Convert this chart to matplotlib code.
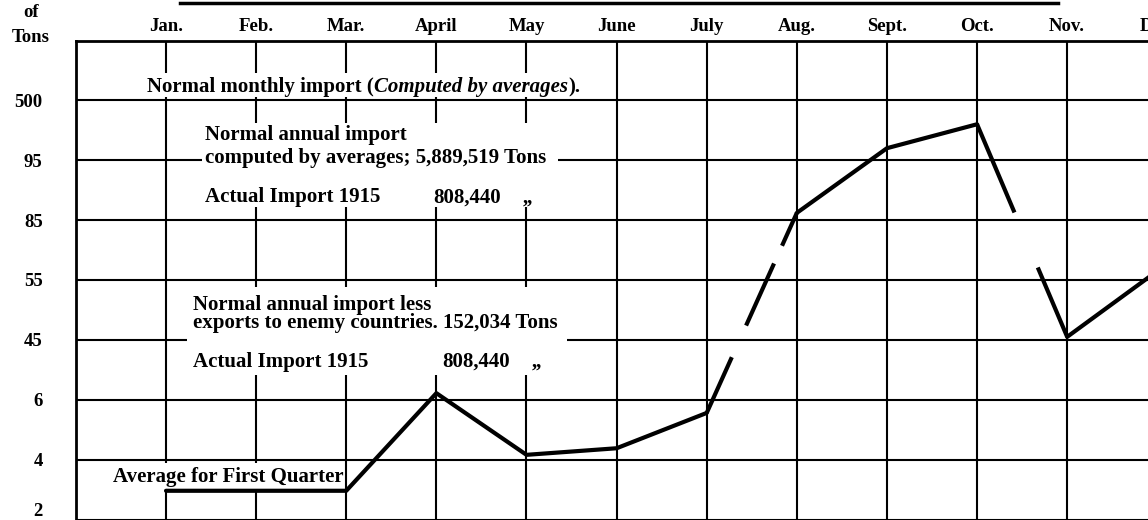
import matplotlib.pyplot as plt
from matplotlib.patches import Rectangle
from matplotlib.lines import Line2D

plt.rcParams['font.family'] = ['Liberation Serif', 'DejaVu Serif']
plt.rcParams['font.weight'] = 'bold'
plt.rcParams['lines.scale_dashes'] = False

months = ["Jan.", "Feb.", "Mar.", "April", "May", "June", "July",
          "Aug.", "Sept.", "Oct.", "Nov.", "Dec."]
row_labels = ["2", "4", "6", "45", "55", "85", "95", "500"]

# actual import 1915 in grid-row units (0 = the "2" line)
imports_1915 = [0.48, 0.48, 0.48, 2.11, 1.08, 1.19, 1.78, 5.12, 6.20, 6.60, 3.05, 4.15]

# runs of the curve: (first month, last month, line style)
runs = [
    (0, 6, '-'),
    (6, 7, (0, (44, 25, 49, 14, 60, 40))),
    (7, 9, '-'),
    (9, 10, (0, (69, 43, 120, 10))),
    (10, 11, '-'),
]

W, H = 1148, 520
fig = plt.figure(figsize=(W / 100, H / 100), dpi=100)
ax = fig.add_axes([76 / W, -10 / H, (1160 - 76) / W, (530 - 41) / H])
ax.set_xlim(-0.999, 11.03)
ax.set_ylim(-0.175, 7.99)

for s in ['right', 'bottom']:
    ax.spines[s].set_visible(False)
for s in ['left', 'top']:
    ax.spines[s].set_linewidth(2)

# grid
for i in range(len(months)):
    ax.axvline(i, color='black', lw=1.5, zorder=1)
for r in range(len(row_labels)):
    ax.axhline(r, color='black', lw=1.5, zorder=1)

ax.xaxis.tick_top()
ax.set_xticks(range(len(months)))
ax.set_xticklabels(months, fontsize=13.5)
ax.tick_params(axis='x', length=0, pad=4.5)
ax.set_yticks(range(len(row_labels)))
ax.set_yticklabels(row_labels, fontsize=13.5)
ax.tick_params(axis='y', length=0, pad=24)
ax.get_yticklabels()[0].set_va('bottom')

# the curve
x = list(range(len(months)))
for a, b, ls in runs:
    ax.plot(x[a:b + 1], imports_1915[a:b + 1], color='black', lw=3, ls=ls,
            solid_joinstyle='round', solid_capstyle='round', zorder=4)

fs = 15

# blank panels under the notes
panels = [(-0.255, 7.06, 5.01, 0.40),
          (0.40, 5.22, 3.95, 1.40),
          (0.233, 2.41, 4.22, 1.47),
          (-0.62, 0.51, 2.60, 0.43)]
for px, py, pw, ph in panels:
    ax.add_patch(Rectangle((px, py), pw, ph, facecolor='white',
                           edgecolor='none', zorder=2))

t1 = ax.text(-0.21, 7.22, "Normal monthly import (", fontsize=fs,
             va='center', ha='left', zorder=3)
t2 = ax.annotate("Computed by averages", xy=(1, 0), xycoords=t1,
                 va='bottom', ha='left', fontsize=fs, style='italic', zorder=3)
ax.annotate(").", xy=(1, 0), xycoords=t2, va='bottom', ha='left',
            fontsize=fs, zorder=3)

ax.text(0.433, 6.42, "Normal annual import", fontsize=fs, va='center', zorder=3)
ax.text(0.433, 6.04, "computed by averages; 5,889,519 Tons", fontsize=fs,
        va='center', zorder=3)
ax.text(0.433, 5.38, "Actual Import 1915", fontsize=fs, va='center', zorder=3)
ax.text(2.96, 5.38, "808,440", fontsize=fs, va='center', zorder=3)
ax.text(3.96, 5.38, ",,", fontsize=fs, va='center', zorder=3)

ax.text(0.30, 3.58, "Normal annual import less", fontsize=fs, va='center', zorder=3)
ax.text(0.30, 3.28, "exports to enemy countries. 152,034 Tons", fontsize=fs,
        va='center', zorder=3)
ax.text(0.30, 2.63, "Actual Import 1915", fontsize=fs, va='center', zorder=3)
ax.text(3.07, 2.63, "808,440", fontsize=fs, va='center', zorder=3)
ax.text(4.06, 2.63, ",,", fontsize=fs, va='center', zorder=3)

ax.text(-0.59, 0.71, "Average for First Quarter", fontsize=fs, va='center', zorder=3)

fig.text(31 / W, 1 - 25 / H, "of\nTons", fontsize=13.5, ha='center',
         va='center', linespacing=1.6)
fig.add_artist(Line2D([180 / W, 1058 / W], [1 - 3 / H, 1 - 3 / H],
                      color='black', lw=2.5))

fig.savefig('out.png', dpi=100)
